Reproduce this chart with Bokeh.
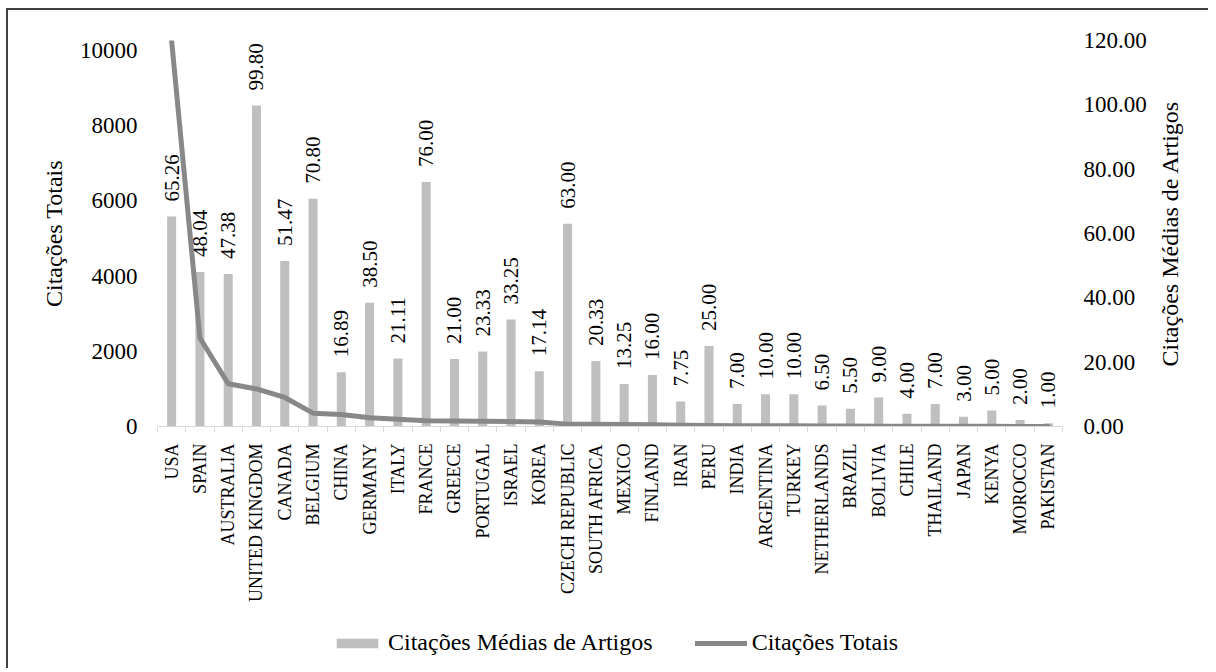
import math
from bokeh.plotting import figure
from bokeh.layouts import column, row
from bokeh.models import (Range1d, LinearAxis, FixedTicker, Legend, LegendItem,
                          NumeralTickFormatter, ColumnDataSource)
from bokeh.core.properties import value
from bokeh.embed import file_html
from bokeh.resources import INLINE

countries = ["USA", "SPAIN", "AUSTRALIA", "UNITED KINGDOM", "CANADA", "BELGIUM",
             "CHINA", "GERMANY", "ITALY", "FRANCE", "GREECE", "PORTUGAL", "ISRAEL",
             "KOREA", "CZECH REPUBLIC", "SOUTH AFRICA", "MEXICO", "FINLAND", "IRAN",
             "PERU", "INDIA", "ARGENTINA", "TURKEY", "NETHERLANDS", "BRAZIL",
             "BOLIVIA", "CHILE", "THAILAND", "JAPAN", "KENYA", "MOROCCO", "PAKISTAN"]
avg_citations = [65.26, 48.04, 47.38, 99.80, 51.47, 70.80, 16.89, 38.50, 21.11,
                 76.00, 21.00, 23.33, 33.25, 17.14, 63.00, 20.33, 13.25, 16.00,
                 7.75, 25.00, 7.00, 10.00, 10.00, 6.50, 5.50, 9.00, 4.00, 7.00,
                 3.00, 5.00, 2.00, 1.00]
total_citations = [10250, 2354, 1137, 998, 772, 354, 321, 231, 190, 152, 147, 140,
                   133, 120, 63, 61, 53, 48, 31, 25, 21, 20, 20, 13, 11, 9, 8, 7,
                   6, 5, 2, 1]
left_ticks = [0, 2000, 4000, 6000, 8000, 10000]
right_ticks = [0, 20, 40, 60, 80, 100, 120]

FONT = "Liberation Serif"
BAR_COLOR = "#BFBFBF"
LINE_COLOR = "#888888"
AXIS_COLOR = "#D9D9D9"

TOP, FRAME_H, BOTTOM = 30, 386, 190

n = len(countries)
idx = list(range(n))
src = ColumnDataSource(dict(
    x=idx, avg=avg_citations, total=total_citations,
    lab=[f"{v:.2f}" for v in avg_citations]))

p = figure(frame_width=905, frame_height=FRAME_H, output_backend="svg",
           toolbar_location=None,
           x_range=Range1d(-0.5, n - 0.5), y_range=Range1d(0, 10266),
           min_border_left=149, min_border_right=90, min_border_top=TOP,
           min_border_bottom=BOTTOM)
p.extra_y_ranges = {"right": Range1d(0, 120)}
p.grid.visible = False
p.outline_line_color = None
p.background_fill_color = "white"
p.border_fill_color = "white"

# x axis (categories by index, ticks between categories)
xa = p.xaxis[0]
xa.ticker = FixedTicker(ticks=idx, minor_ticks=[i - 0.5 for i in range(n + 1)])
xa.major_label_overrides = {i: c for i, c in enumerate(countries)}
xa.major_label_orientation = math.pi / 2
xa.major_tick_in = 0
xa.major_tick_out = 0
xa.major_tick_line_color = None
xa.minor_tick_in = 0
xa.minor_tick_out = 6
xa.minor_tick_line_color = AXIS_COLOR
xa.axis_line_color = AXIS_COLOR
xa.major_label_standoff = 11
xa.major_label_text_font = FONT
xa.major_label_text_font_size = "18px"
xa.major_label_text_color = "black"

# left axis
ya = p.yaxis[0]
ya.ticker = FixedTicker(ticks=left_ticks)
ya.formatter = NumeralTickFormatter(format="0")
ya.axis_line_color = None
ya.major_tick_line_color = None
ya.minor_tick_line_color = None
ya.major_tick_in = 0
ya.major_tick_out = 0
ya.major_label_standoff = 20
ya.major_label_text_font = FONT
ya.major_label_text_font_size = "23px"
ya.major_label_text_color = "black"
ya.axis_label = "Citações Totais"
ya.axis_label_text_font = FONT
ya.axis_label_text_font_size = "24px"
ya.axis_label_text_font_style = "normal"
ya.axis_label_text_color = "black"
ya.axis_label_standoff = 10

# right axis (ticks only; its title is drawn by the narrow figure beside it)
ra = LinearAxis(y_range_name="right", ticker=FixedTicker(ticks=right_ticks),
                formatter=NumeralTickFormatter(format="0.00"))
ra.axis_line_color = None
ra.major_tick_line_color = None
ra.minor_tick_line_color = None
ra.major_tick_in = 0
ra.major_tick_out = 0
ra.major_label_standoff = 21
ra.major_label_text_font = FONT
ra.major_label_text_font_size = "23px"
ra.major_label_text_color = "black"
p.add_layout(ra, "right")

bars = p.vbar(x="x", top="avg", width=0.32, source=src, y_range_name="right",
              fill_color=BAR_COLOR, line_color=None)
p.text(x="x", y="avg", text="lab", source=src, y_range_name="right",
       angle=math.pi / 2, text_align="left", text_baseline="middle",
       y_offset=-15, text_font=value(FONT), text_font_size="21px",
       text_color="black")
p.line(x="x", y="total", source=src, line_color=LINE_COLOR, line_width=5,
       line_cap="round", line_join="round")

# narrow figure carrying the secondary-axis title (reads bottom to top)
tf = figure(frame_width=1, frame_height=FRAME_H, output_backend="svg",
            toolbar_location=None, x_axis_location=None,
            x_range=Range1d(0, 1), y_range=Range1d(0, 120),
            min_border_left=30, min_border_right=25, min_border_top=TOP,
            min_border_bottom=BOTTOM)
tf.outline_line_color = None
tf.grid.visible = False
ta = tf.yaxis[0]
ta.ticker = FixedTicker(ticks=[])
ta.axis_line_color = None
ta.major_tick_line_color = None
ta.minor_tick_line_color = None
ta.major_tick_in = 0
ta.major_tick_out = 0
ta.major_label_standoff = 0
ta.axis_label = "Citações Médias de Artigos"
ta.axis_label_text_font = FONT
ta.axis_label_text_font_size = "24px"
ta.axis_label_text_font_style = "normal"
ta.axis_label_text_color = "black"
ta.axis_label_standoff = 0

# legend strip: same series drawn against ranges that keep them out of view,
# so only the legend entries show
lf = figure(width=1200, height=52, output_backend="svg", toolbar_location=None,
            x_axis_location=None, y_axis_location=None,
            x_range=Range1d(-20, -19), y_range=Range1d(-20, -19), min_border=0)
lf.outline_line_color = None
lf.grid.visible = False
lg_bar = lf.vbar(x="x", top="avg", width=0.32, source=src,
                 fill_color=BAR_COLOR, line_color=None)
lg_line = lf.line(x="x", y="total", source=src, line_color=LINE_COLOR,
                  line_width=5, line_cap="round")
legend = Legend(items=[LegendItem(label="Citações Médias de Artigos", renderers=[lg_bar]),
                       LegendItem(label="Citações Totais", renderers=[lg_line])],
                orientation="horizontal", location=(323, 12),
                glyph_width=52, glyph_height=12, label_standoff=5, spacing=42,
                padding=0, margin=0, border_line_color=None,
                background_fill_alpha=0, label_text_font=FONT,
                label_text_font_size="24px", label_text_color="black")
lf.add_layout(legend, "center")

layout = column(row(p, tf), lf)
layout.styles = {"margin-left": "6px", "margin-top": "8px",
                 "border-left": "2px solid #404040", "border-top": "2px solid #404040"}

open("out.html", "w").write(file_html(layout, INLINE))
